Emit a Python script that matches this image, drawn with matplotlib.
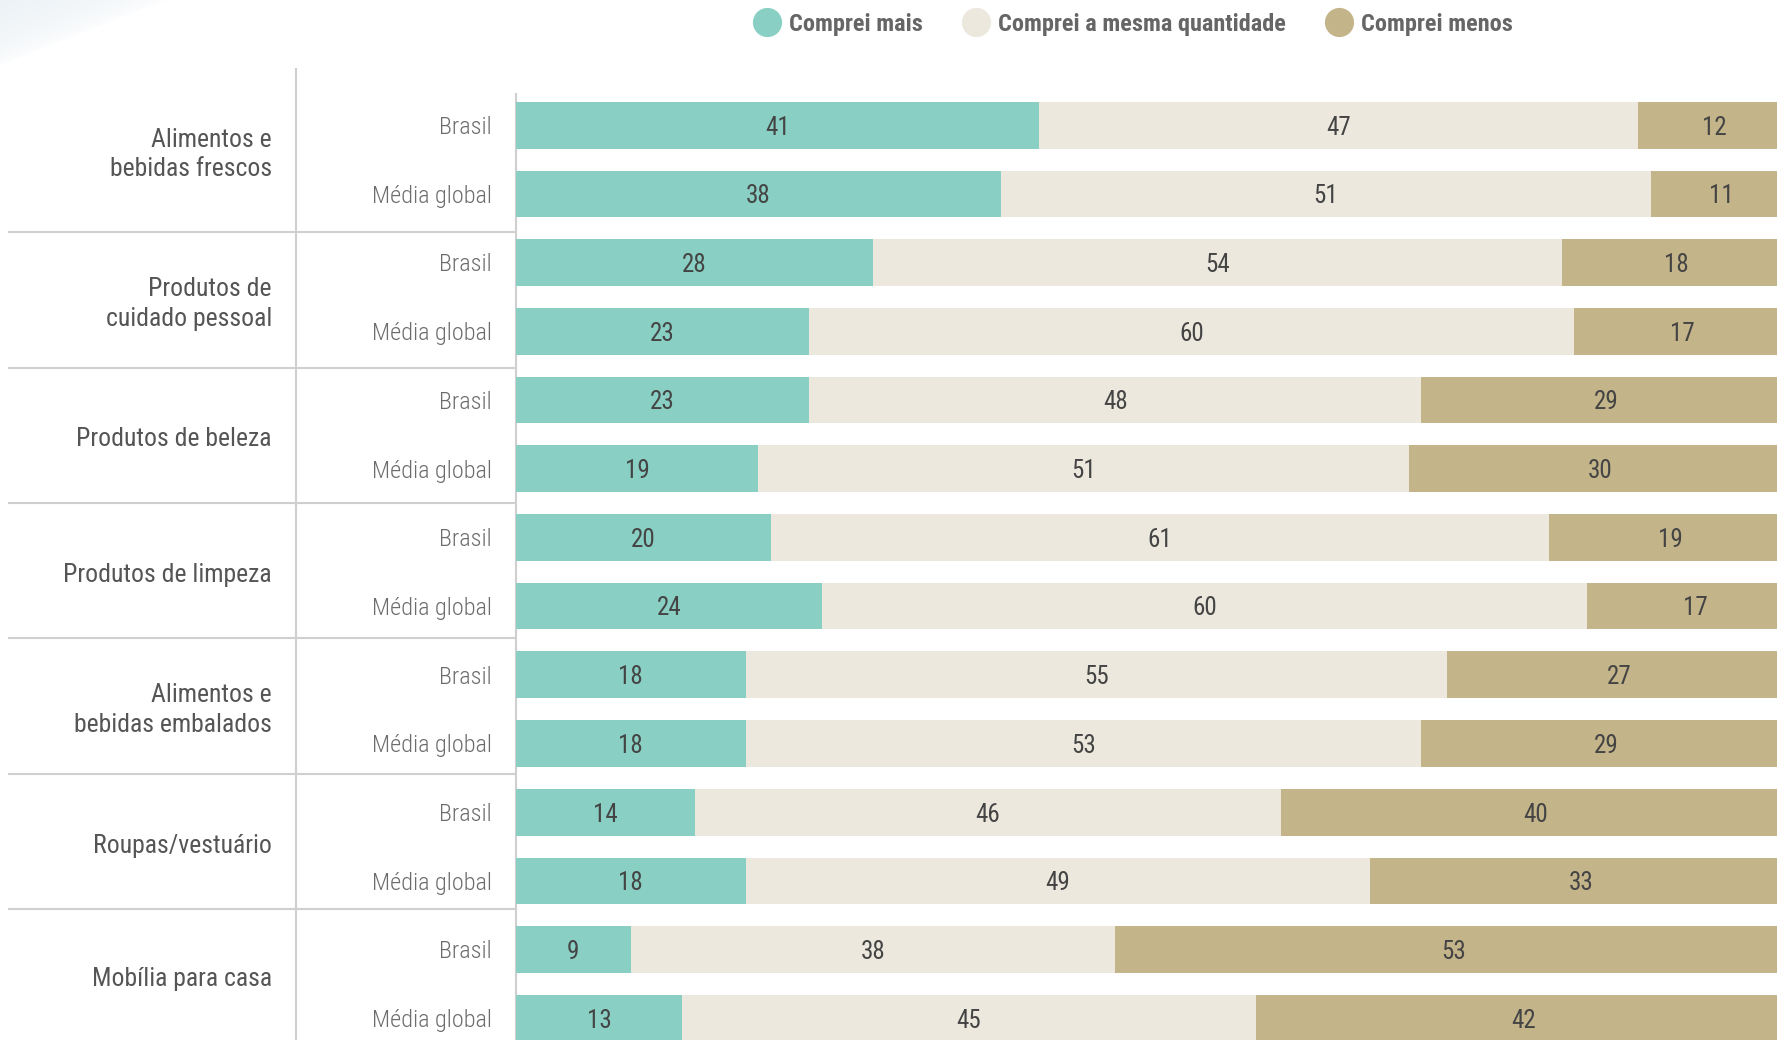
import numpy as np
import matplotlib.pyplot as plt
from matplotlib import font_manager
from matplotlib.lines import Line2D

categories = ['Alimentos e\nbebidas frescos', 'Produtos de\ncuidado pessoal', 'Produtos de beleza',
              'Produtos de limpeza', 'Alimentos e\nbebidas embalados', 'Roupas/vestuário',
              'Mobília para casa']
groups = ['Brasil', 'Média global']
series = ['Comprei mais', 'Comprei a mesma quantidade', 'Comprei menos']

mais_brasil = [41, 28, 23, 20, 18, 14, 9]
mais_global = [38, 23, 19, 24, 18, 18, 13]
mesma_brasil = [47, 54, 48, 61, 55, 46, 38]
mesma_global = [51, 60, 51, 60, 53, 49, 45]
menos_brasil = [12, 18, 29, 19, 27, 40, 53]
menos_global = [11, 17, 30, 17, 29, 33, 42]

colors = ['#89cfc4', '#ece8dd', '#c4b489']

# pick a narrow font if one is there
installed = {f.name for f in font_manager.fontManager.ttflist}
font = 'Roboto'
for name in ['Roboto Condensed', 'Liberation Sans Narrow', 'Roboto']:
    if name in installed:
        font = name
        break
plt.rcParams['font.family'] = [font, 'DejaVu Sans']


def interleave(a, b):
    return np.array([v for pair in zip(a, b) for v in pair], dtype=float)


values = [interleave(mais_brasil, mais_global),
          interleave(mesma_brasil, mesma_global),
          interleave(menos_brasil, menos_global)]
rows = np.arange(len(values[0]))

fig = plt.figure(figsize=(17.77, 10.40), dpi=100)
ax = fig.add_axes([0, 0, 1, 1])
y_top, y_bottom = -1.822, 13.316
table_top = -0.83
dy = 0.035  # nudge text down a little

left = np.zeros(len(rows))
for vals, col in zip(values, colors):
    ax.barh(rows, vals, left=left, height=0.68, color=col, linewidth=0)
    for y, l, v in zip(rows, left, vals):
        ax.text(l + v / 2, y + dy, f'{v:.0f}', ha='center', va='center', fontsize=18,
                color='#444444')
    left = left + vals

# grid lines
line_col = '#cfcfcf'
seps = [1.56 + 1.97 * i for i in range(len(categories) - 1)]
for s in seps:
    ax.hlines(s, -39.84, 0, color=line_col, lw=1.5)
ax.vlines(-17.25, table_top, 14, color=line_col, lw=1.5)
ax.vlines(0, -0.47, 14, color=line_col, lw=1.5, zorder=0)

# labels on the left, centred between the separators
bounds = [table_top] + seps + [y_bottom]
for i, cat in enumerate(categories):
    ax.text(-19.14, (bounds[i] + bounds[i + 1]) / 2 + 0.06, cat, ha='right', va='center',
            fontsize=18.5, color='#555555', linespacing=1.3)
for y in rows:
    ax.text(-1.88, y + dy, groups[y % 2], ha='right', va='center', fontsize=17.5,
            color='#6c6c6c', fontweight='light')

ax.set_xlim(-40.47, 98.9)
ax.set_ylim(y_bottom, y_top)
ax.axis('off')

handles = [Line2D([], [], marker='o', ls='', markersize=20, color=c) for c in colors]
leg = fig.legend(handles, series, loc='center', bbox_to_anchor=(0.638, 0.9765), ncol=3,
                 frameon=False, handlelength=1.0, handletextpad=0.4, columnspacing=1.7,
                 prop={'size': 17.5, 'weight': 'bold'})
for t in leg.get_texts():
    t.set_color('#666666')

# faint glow in the top-left corner
h, w = 75, 200
yy, xx = np.mgrid[0:h, 0:w]
fade = np.clip(1 - (xx / 165.0 + yy / 65.0), 0, 1) ** 0.5
glow = np.zeros((h, w, 4))
glow[..., :3] = [0.91, 0.94, 0.96]
glow[..., 3] = fade * 0.8
fig.figimage(glow, xo=0, yo=1040 - h, origin='upper', zorder=0)

fig.savefig('out.png', dpi=100)
